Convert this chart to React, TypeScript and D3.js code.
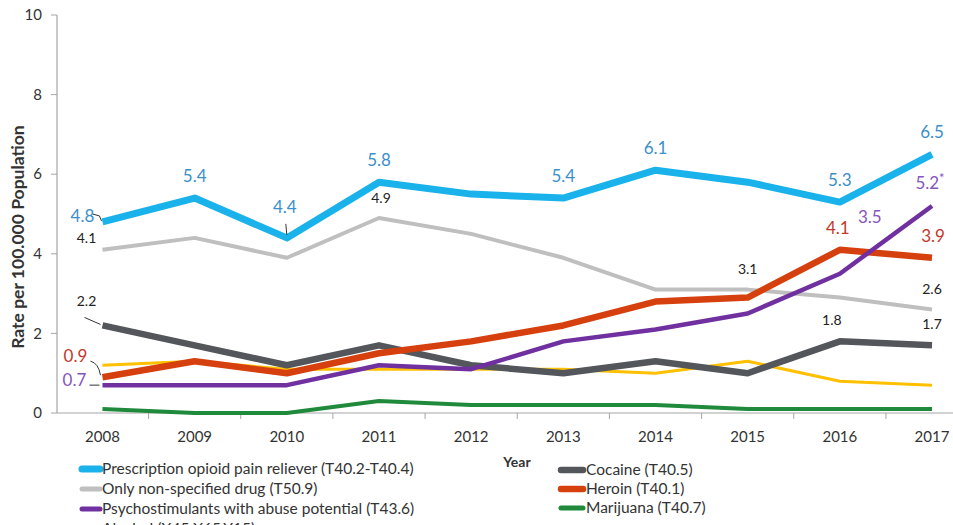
import React from "react";
import * as d3 from "d3";

const years = ["2008","2009","2010","2011","2012","2013","2014","2015","2016","2017"];
const opioid = [4.8, 5.4, 4.4, 5.8, 5.5, 5.4, 6.1, 5.8, 5.3, 6.5];
const nonSpecified = [4.1, 4.4, 3.9, 4.9, 4.5, 3.9, 3.1, 3.1, 2.9, 2.6];
const psycho = [0.7, 0.7, 0.7, 1.2, 1.1, 1.8, 2.1, 2.5, 3.5, 5.2];
const alcohol = [1.2, 1.3, 1.1, 1.1, 1.1, 1.1, 1.0, 1.3, 0.8, 0.7];
const cocaine = [2.2, 1.7, 1.2, 1.7, 1.2, 1.0, 1.3, 1.0, 1.8, 1.7];
const heroin = [0.9, 1.3, 1.0, 1.5, 1.8, 2.2, 2.8, 2.9, 4.1, 3.9];
const marijuana = [0.1, 0.0, 0.0, 0.3, 0.2, 0.2, 0.2, 0.1, 0.1, 0.1];
const yTicks = [0, 2, 4, 6, 8, 10];

const seriesNames = [
  "Prescription opioid pain reliever (T40.2-T40.4)",
  "Only non-specified drug (T50.9)",
  "Psychostimulants with abuse potential (T43.6)",
  "Alcohol (X45,X65,Y15)",
  "Cocaine (T40.5)",
  "Heroin (T40.1)",
  "Marijuana (T40.7)",
];

type S = { name: string; values: number[]; color: string; width: number };
const series: S[] = [
  { name: seriesNames[3], values: alcohol, color: "#ffc000", width: 3 },
  { name: seriesNames[6], values: marijuana, color: "#1f8a3c", width: 4 },
  { name: seriesNames[4], values: cocaine, color: "#53565a", width: 6.5 },
  { name: seriesNames[1], values: nonSpecified, color: "#bfbfbf", width: 4 },
  { name: seriesNames[5], values: heroin, color: "#d5400e", width: 6.5 },
  { name: seriesNames[2], values: psycho, color: "#7030a0", width: 4.5 },
  { name: seriesNames[0], values: opioid, color: "#1ab2ea", width: 7 },
];
const colorOf = (n: string) => series.find((s) => s.name === n)!.color;
const widthOf = (n: string) => series.find((s) => s.name === n)!.width;

const BLUE = "#3b8fca";
const RED = "#c0392b";
const PURPLE = "#8555bd";
const DARK = "#222";

type L = { vals: number[]; i: number; t: string; dx: number; dy: number; c: string; fs: number };
const labels: L[] = [
  { vals: opioid, i: 0, t: "4.8", dx: -20, dy: 0, c: BLUE, fs: 17 },
  { vals: opioid, i: 1, t: "5.4", dx: 0, dy: -16, c: BLUE, fs: 17 },
  { vals: opioid, i: 2, t: "4.4", dx: -2, dy: -25, c: BLUE, fs: 17 },
  { vals: opioid, i: 3, t: "5.8", dx: 0, dy: -16, c: BLUE, fs: 17 },
  { vals: opioid, i: 5, t: "5.4", dx: 0, dy: -16, c: BLUE, fs: 17 },
  { vals: opioid, i: 6, t: "6.1", dx: 0, dy: -16, c: BLUE, fs: 17 },
  { vals: opioid, i: 8, t: "5.3", dx: 0, dy: -16, c: BLUE, fs: 17 },
  { vals: opioid, i: 9, t: "6.5", dx: 0, dy: -16, c: BLUE, fs: 17 },
  { vals: nonSpecified, i: 0, t: "4.1", dx: -16, dy: -7, c: DARK, fs: 14 },
  { vals: nonSpecified, i: 3, t: "4.9", dx: 2, dy: -15, c: DARK, fs: 14 },
  { vals: nonSpecified, i: 7, t: "3.1", dx: 0, dy: -16, c: DARK, fs: 14 },
  { vals: nonSpecified, i: 9, t: "2.6", dx: 0, dy: -16, c: DARK, fs: 14 },
  { vals: cocaine, i: 0, t: "2.2", dx: -16, dy: -19, c: DARK, fs: 14 },
  { vals: cocaine, i: 8, t: "1.8", dx: -8, dy: -16, c: DARK, fs: 14 },
  { vals: cocaine, i: 9, t: "1.7", dx: 0, dy: -16, c: DARK, fs: 14 },
  { vals: heroin, i: 0, t: "0.9", dx: -27, dy: -15, c: RED, fs: 17 },
  { vals: heroin, i: 8, t: "4.1", dx: -2, dy: -16, c: RED, fs: 17 },
  { vals: heroin, i: 9, t: "3.9", dx: 1, dy: -16, c: RED, fs: 17 },
  { vals: psycho, i: 0, t: "0.7", dx: -28, dy: 1, c: PURPLE, fs: 17 },
  { vals: psycho, i: 8, t: "3.5", dx: 30, dy: -51, c: PURPLE, fs: 17 },
  { vals: psycho, i: 9, t: "5.2", dx: -2, dy: -17, c: PURPLE, fs: 17 },
];

export default function App() {
  const W = 953, H = 525;
  const x = d3.scaleBand<string>().domain(years).range([56.4, 56.4 + 92.17 * 10]);
  const y = d3.scaleLinear().domain([0, 10]).range([413, 15]);
  const cx = (i: number) => (x(years[i]) as number) + x.bandwidth() / 2;
  const line = d3
    .line<number>()
    .x((_, i) => cx(i))
    .y((d) => y(d));
  const font = "Lato, 'Noto Sans', sans-serif";
  const boundaries = d3.range(1, 11).map((k) => 56.4 + 92.17 * k).filter((v) => v < W);

  const legendLeft = [seriesNames[0], seriesNames[1], seriesNames[2], seriesNames[3]];
  const legendRight = [seriesNames[4], seriesNames[5], seriesNames[6]];

  return (
    <svg width={W} height={H} style={{ position: "absolute", left: 0, top: 0, background: "#fff" }} fontFamily={font}>
      <line x1={57} x2={57} y1={y(10)} y2={y(0)} stroke="#a6a6a6" strokeWidth={1.2} />
      <line x1={57} x2={W} y1={y(0)} y2={y(0)} stroke="#a6a6a6" strokeWidth={1.2} />
      {yTicks.map((t) => (
        <g key={t}>
          <line x1={51} x2={57} y1={y(t)} y2={y(t)} stroke="#a6a6a6" strokeWidth={1} />
          <text x={42} y={y(t)} dy="0.35em" textAnchor="end" fontSize={15} fill="#333">{t}</text>
        </g>
      ))}
      {boundaries.map((b, k) => (
        <line key={k} x1={b} x2={b} y1={y(0)} y2={y(0) + 6} stroke="#a6a6a6" strokeWidth={1} />
      ))}
      {years.map((yr, i) => (
        <text key={yr} x={cx(i)} y={437} dy="0.35em" textAnchor="middle" fontSize={15} fill="#333">{yr}</text>
      ))}
      <text transform={`translate(24,237) rotate(-90)`} textAnchor="middle" fontSize={17.5} fontWeight="bold" fill="#333">
        Rate per 100.000 Population
      </text>
      <text x={517} y={462} dy="0.35em" textAnchor="middle" fontSize={14} fontWeight="bold" fill="#333">Year</text>

      {series.map((s) => (
        <path key={s.name} d={line(s.values) || ""} fill="none" stroke={s.color} strokeWidth={s.width} strokeLinejoin="round" strokeLinecap="butt" />
      ))}

      <path d={`M${cx(0) - 10},${y(4.8) - 8} L${cx(0) - 3},${y(4.8) - 6} L${cx(0) - 1},${y(4.8) - 1}`} fill="none" stroke="#333" strokeWidth={1} />
      <path d={`M${cx(2) - 1},${y(4.4) - 14} L${cx(2)},${y(4.4) - 3}`} fill="none" stroke="#333" strokeWidth={1} />
      <path d={`M${cx(0) - 18},${y(2.2) - 8} L${cx(0) - 2},${y(2.2) - 1}`} fill="none" stroke="#333" strokeWidth={1} />
      <path d={`M${cx(0) - 12},${y(0.9) - 16} Q${cx(0) - 4},${y(0.9) - 14} ${cx(0) - 2},${y(0.9) - 2}`} fill="none" stroke="#333" strokeWidth={1} />
      <path d={`M${cx(0) - 13},${y(0.7)} L${cx(0) - 3},${y(0.7)}`} fill="none" stroke="#333" strokeWidth={1} />

      {labels.map((l, k) => (
        <text key={k} x={cx(l.i) + l.dx} y={y(l.vals[l.i]) + l.dy} textAnchor="middle" fontSize={l.fs} fill={l.c}>
          {l.t}
          {l.t === "5.2" && l.vals === psycho ? <tspan dy={-6} fontSize={13}>*</tspan> : null}
        </text>
      ))}

      {legendLeft.map((n, i) => (
        <g key={n} transform={`translate(0,${469 + i * 20})`}>
          <line x1={82} x2={100} y1={0} y2={0} stroke={colorOf(n)} strokeWidth={Math.max(widthOf(n), 5)} strokeLinecap="round" />
          <text x={102} y={0} dy="0.35em" fontSize={15.5} fill="#333">{n}</text>
        </g>
      ))}
      {legendRight.map((n, i) => (
        <g key={n} transform={`translate(0,${470 + i * 19})`}>
          <line x1={561} x2={583} y1={0} y2={0} stroke={colorOf(n)} strokeWidth={Math.max(widthOf(n), 5)} strokeLinecap="round" />
          <text x={586} y={0} dy="0.35em" fontSize={15.5} fill="#333">{n}</text>
        </g>
      ))}
    </svg>
  );
}
